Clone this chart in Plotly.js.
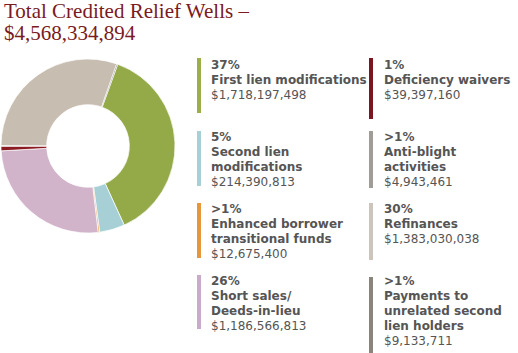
<!DOCTYPE html>
<html>
<head>
<meta charset="utf-8">
<script src="https://cdn.plot.ly/plotly-3.0.1.min.js"></script>
<style>html,body{margin:0;padding:0;background:#fff;}#chart{width:518px;height:353px;}</style>
</head>
<body>
<div id="chart"></div>
<script>
// Data
const categories = [
  "First lien modifications",
  "Second lien modifications",
  "Enhanced borrower transitional funds",
  "Short sales/Deeds-in-lieu",
  "Deficiency waivers",
  "Anti-blight activities",
  "Refinances",
  "Payments to unrelated second lien holders"
];
const values = [1718197498, 214390813, 12675400, 1186566813, 39397160, 4943461, 1383030038, 9133711];
const percentLabels = ["37%", "5%", ">1%", "26%", "1%", ">1%", "30%", ">1%"];
const labelLines = [
  ["First lien modifications"],
  ["Second lien", "modifications"],
  ["Enhanced borrower", "transitional funds"],
  ["Short sales/", "Deeds-in-lieu"],
  ["Deficiency waivers"],
  ["Anti-blight", "activities"],
  ["Refinances"],
  ["Payments to", "unrelated second", "lien holders"]
];
const amountLabels = ["$1,718,197,498", "$214,390,813", "$12,675,400", "$1,186,566,813",
                      "$39,397,160", "$4,943,461", "$1,383,030,038", "$9,133,711"];
const titleLines = ["Total Credited Relief Wells \u2013", "$4,568,334,894"];

const sliceColors = ["#94aa48", "#a6d0d6", "#e8963a", "#d1b4ca", "#8b1a22", "#a09a94", "#c7bdb1", "#77716a"];
const barColors   = ["#9aae4a", "#a6d0d6", "#e8963a", "#c8aacb", "#7b1520", "#a09c97", "#cdc5bb", "#8a847a"];

const W = 518, H = 353;
const px = x => x / W;
const py = y => 1 - y / H;

// legend layout (pixel positions)
const colX = [210, 383];
const barX = [197, 369];
const entryTop = [61, 133, 205, 277];
const barSpans = [[58,113],[131,186],[203,258],[275,329],[58,119],[131,188],[203,260],[277,353]];
const lineStep = 15;

const annotations = [];
const shapes = [];
const textColor = "#555555";
const fontFam = "DejaVu Sans, Arial, sans-serif";

categories.forEach((c, i) => {
  const col = i < 4 ? 0 : 1;
  const row = i % 4;
  const lines = [
    {t: percentLabels[i], b: true},
    ...labelLines[i].map(t => ({t, b: true})),
    {t: amountLabels[i], b: false}
  ];
  lines.forEach((ln, k) => {
    const capTop = entryTop[row] + k * lineStep;
    annotations.push({
      xref: "paper", yref: "paper",
      x: px(colX[col]), y: py(capTop + 4.4),
      xanchor: "left", yanchor: "middle",
      showarrow: false,
      text: ln.b ? "<b>" + ln.t + "</b>" : ln.t,
      font: {family: fontFam, size: 12, color: textColor},
      borderpad: 0
    });
  });
  shapes.push({
    type: "rect", xref: "paper", yref: "paper",
    x0: px(barX[col]), x1: px(barX[col] + 4),
    y0: py(barSpans[i][1]), y1: py(barSpans[i][0]),
    fillcolor: barColors[i], line: {width: 0}
  });
});

// title
titleLines.forEach((t, k) => {
  annotations.push({
    xref: "paper", yref: "paper",
    x: px(3), y: py(k === 0 ? 11.5 : 33),
    xanchor: "left", yanchor: "middle",
    showarrow: false, text: t,
    font: {family: "Liberation Serif, Times New Roman, serif", size: 21, color: "#7a1a22"},
    borderpad: 0
  });
});

const trace = {
  type: "pie",
  labels: categories,
  values: values,
  sort: false,
  direction: "clockwise",
  rotation: 20,
  hole: 0.475,
  textinfo: "none",
  marker: {colors: sliceColors, line: {color: "#ffffff", width: 0.7}},
  domain: {x: [px(1), px(175)], y: [py(233), py(59)]},
  showlegend: false
};

Plotly.newPlot("chart", [trace], {
  width: W, height: H,
  margin: {l: 0, r: 0, t: 0, b: 0},
  paper_bgcolor: "#ffffff",
  showlegend: false,
  annotations, shapes
}, {displayModeBar: false, staticPlot: true});
</script>
</body>
</html>
